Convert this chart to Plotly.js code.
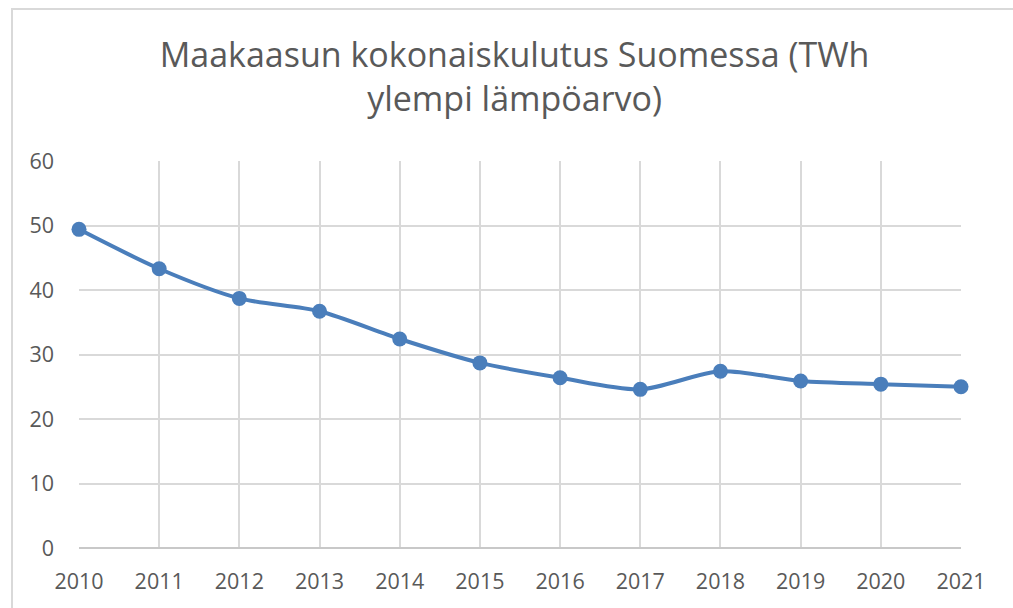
<!DOCTYPE html>
<html>
<head>
<meta charset="utf-8">
<script src="https://cdn.plot.ly/plotly-3.0.1.min.js"></script>
<style>
  html, body { margin: 0; padding: 0; background: #ffffff; }
  #frame { position: absolute; left: 11px; top: 8px; width: 1020px; height: 620px; border: 2px solid #d9d9d9; box-sizing: border-box; }
  #chart { position: absolute; left: 0; top: 0; width: 1013px; height: 608px; }
</style>
</head>
<body>
<div id="frame"></div>
<div id="chart"></div>
<script>
const years = ['2010','2011','2012','2013','2014','2015','2016','2017','2018','2019','2020','2021'];
const consumption = [49.4, 43.3, 38.7, 36.7, 32.4, 28.7, 26.4, 24.6, 27.4, 25.9, 25.4, 25.0];
const yTicks = [0, 10, 20, 30, 40, 50, 60];
const titleText = 'Maakaasun kokonaiskulutus Suomessa (TWh<br>ylempi lämpöarvo)';

const trace = {
  x: years,
  y: consumption,
  type: 'scatter',
  mode: 'lines+markers',
  line: { color: '#4a7ebb', width: 4, shape: 'spline', smoothing: 0.8 },
  marker: { color: '#4a7ebb', size: 15 },
  cliponaxis: false,
  hoverinfo: 'x+y'
};

const layout = {
  width: 1013,
  height: 608,
  margin: { l: 79, r: 52, t: 161, b: 60 },
  paper_bgcolor: 'rgba(0,0,0,0)',
  plot_bgcolor: 'rgba(0,0,0,0)',
  showlegend: false,
  font: { family: 'Open Sans, sans-serif', color: '#595959' },
  title: {
    text: titleText,
    font: { family: 'Open Sans, sans-serif', size: 34, color: '#595959' },
    x: 0.508, xanchor: 'center',
    y: 0.89, yanchor: 'top'
  },
  xaxis: {
    type: 'category',
    range: [0, years.length - 1],
    showgrid: true,
    gridcolor: '#d9d9d9',
    gridwidth: 2,
    showline: false,
    zeroline: false,
    ticks: '',
    ticklabelstandoff: 18,
    tickfont: { size: 21.5, color: '#595959' },
    fixedrange: true
  },
  yaxis: {
    range: [0, 60],
    tickvals: yTicks,
    showgrid: true,
    gridcolor: '#d9d9d9',
    gridwidth: 2,
    zeroline: true,
    zerolinecolor: '#c8c8c8',
    zerolinewidth: 2.5,
    showline: false,
    ticks: '',
    ticklabelstandoff: 24,
    tickfont: { size: 21.5, color: '#595959' },
    fixedrange: true
  }
};

Plotly.newPlot('chart', [trace], layout, { displayModeBar: false, staticPlot: true });
</script>
</body>
</html>
